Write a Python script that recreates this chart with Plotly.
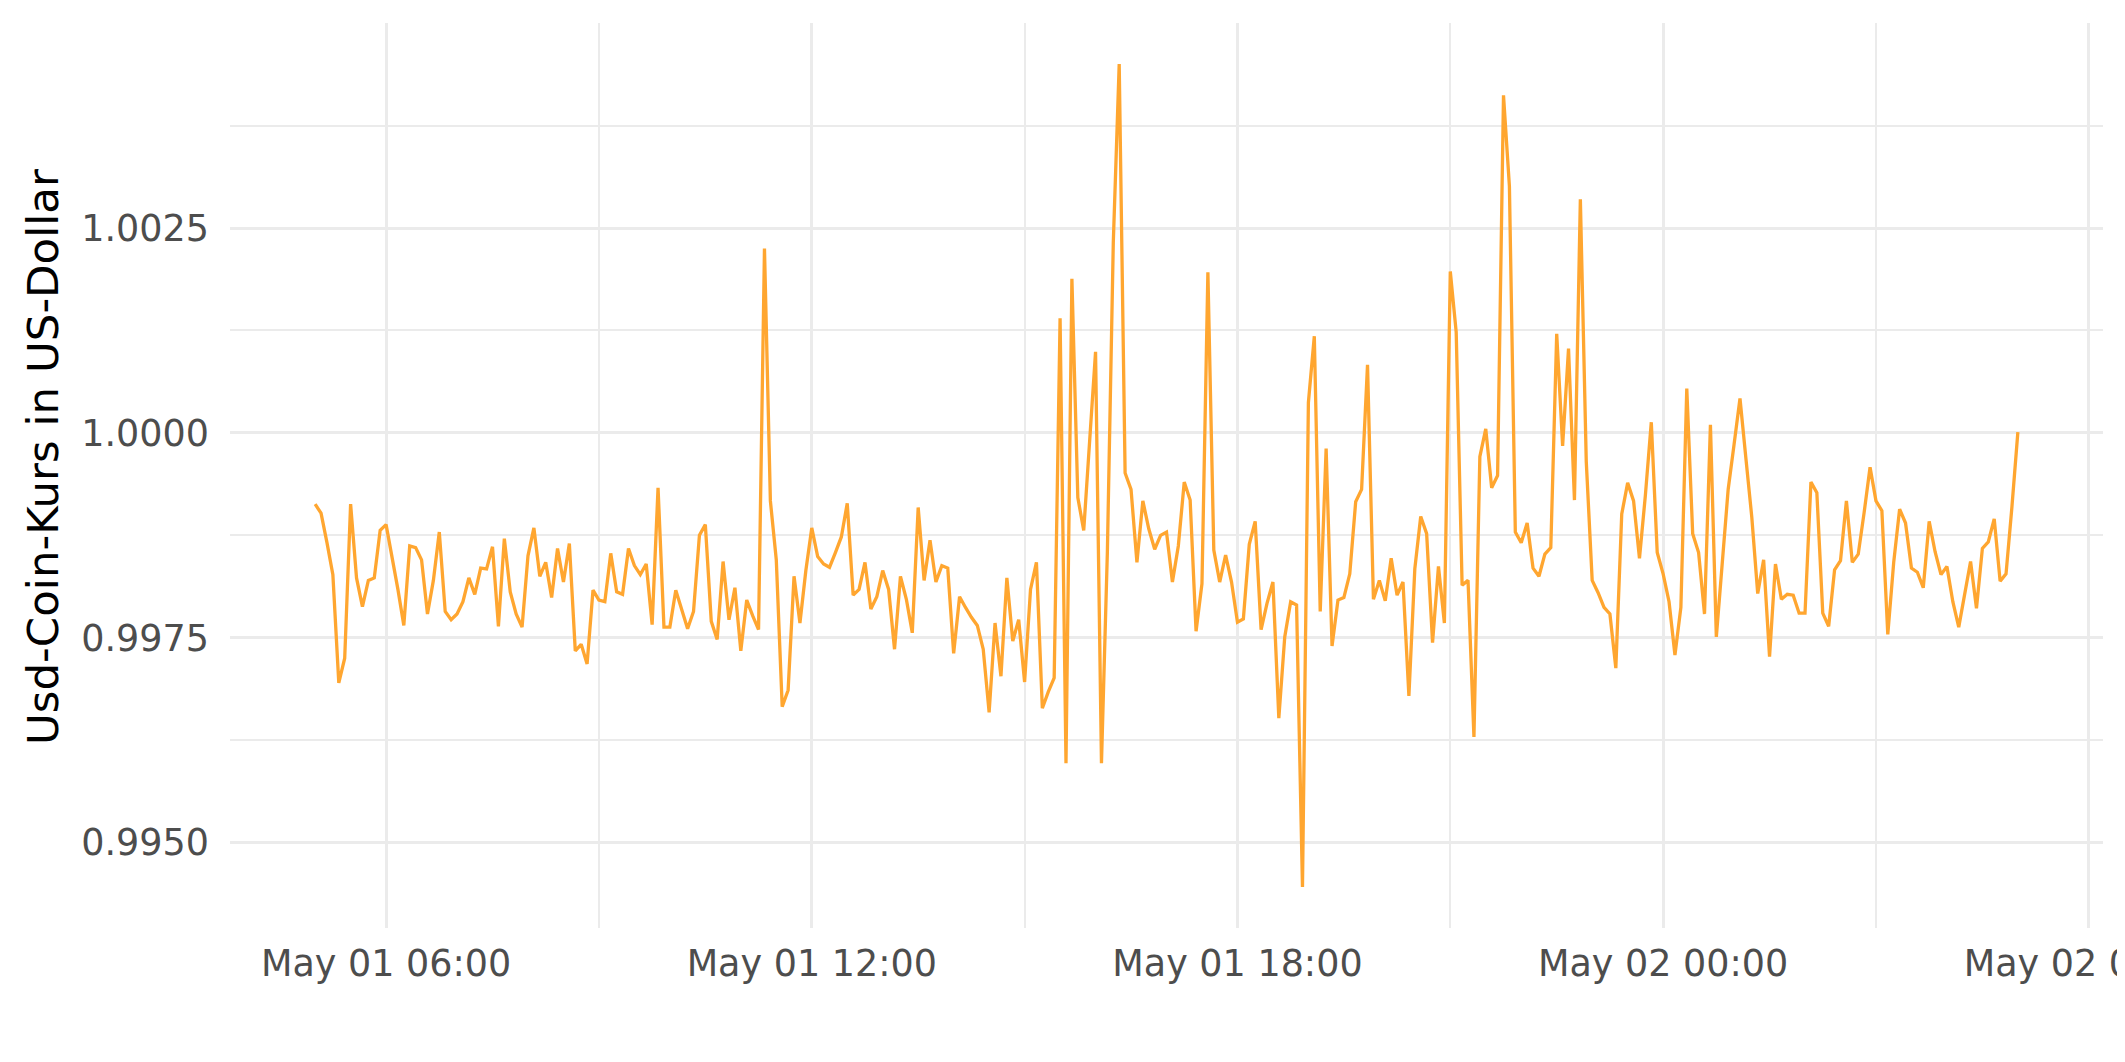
import pandas as pd
import plotly.graph_objects as go

# ---- data (5-minute samples, May 01 05:00 -> May 02 05:00) ----
start_time = "2024-05-01 05:00"
sample_freq = "5min"

usdc_price = [
    0.99913, 0.99902, 0.99866, 0.99827, 0.99695, 0.99725, 0.99913, 0.99823, 0.99788, 0.99820,
    0.99823, 0.99881, 0.99888, 0.99850, 0.99809, 0.99765, 0.99862, 0.99860, 0.99845, 0.99779,
    0.99820, 0.99879, 0.99782, 0.99772, 0.99779, 0.99794, 0.99823, 0.99803, 0.99835, 0.99834,
    0.99861, 0.99764, 0.99871, 0.99806, 0.99779, 0.99763, 0.99850, 0.99884, 0.99825, 0.99842,
    0.99799, 0.99859, 0.99818, 0.99865, 0.99734, 0.99742, 0.99718, 0.99808, 0.99796, 0.99794,
    0.99853, 0.99806, 0.99803, 0.99859, 0.99838, 0.99827, 0.99840, 0.99766, 0.99933, 0.99763,
    0.99763, 0.99808, 0.99784, 0.99761, 0.99782, 0.99875, 0.99888, 0.99770, 0.99748, 0.99843,
    0.99772, 0.99811, 0.99734, 0.99796, 0.99777, 0.99760, 1.00225, 0.99917, 0.99845, 0.99666,
    0.99686, 0.99825, 0.99768, 0.99832, 0.99884, 0.99849, 0.99840, 0.99836, 0.99854, 0.99873,
    0.99914, 0.99802, 0.99809, 0.99842, 0.99785, 0.99800, 0.99832, 0.99809, 0.99736, 0.99825,
    0.99797, 0.99756, 0.99909, 0.99820, 0.99869, 0.99818, 0.99838, 0.99835, 0.99731, 0.99800,
    0.99787, 0.99775, 0.99765, 0.99736, 0.99659, 0.99768, 0.99703, 0.99823, 0.99746, 0.99772,
    0.99696, 0.99809, 0.99842, 0.99664, 0.99684, 0.99701, 1.00140, 0.99597, 1.00188, 0.99921,
    0.99881, 0.99989, 1.00099, 0.99597, 0.99855, 1.00232, 1.00450, 0.99951, 0.99931, 0.99842,
    0.99917, 0.99883, 0.99858, 0.99875, 0.99879, 0.99818, 0.99862, 0.99940, 0.99918, 0.99758,
    0.99816, 1.00196, 0.99857, 0.99818, 0.99851, 0.99818, 0.99769, 0.99773, 0.99864, 0.99892,
    0.99760, 0.99792, 0.99818, 0.99652, 0.99751, 0.99794, 0.99790, 0.99446, 1.00037, 1.00118,
    0.99782, 0.99981, 0.99740, 0.99796, 0.99799, 0.99828, 0.99916, 0.99931, 1.00083, 0.99797,
    0.99820, 0.99795, 0.99847, 0.99802, 0.99818, 0.99679, 0.99834, 0.99898, 0.99877, 0.99744,
    0.99837, 0.99768, 1.00197, 1.00123, 0.99814, 0.99820, 0.99629, 0.99971, 1.00005, 0.99933,
    0.99948, 1.00412, 1.00301, 0.99879, 0.99866, 0.99890, 0.99835, 0.99825, 0.99852, 0.99860,
    1.00121, 0.99984, 1.00103, 0.99918, 1.00285, 0.99965, 0.99820, 0.99805, 0.99787, 0.99779,
    0.99713, 0.99901, 0.99939, 0.99917, 0.99847, 0.99924, 1.00013, 0.99854, 0.99828, 0.99794,
    0.99729, 0.99787, 1.00054, 0.99877, 0.99854, 0.99779, 1.00010, 0.99751, 0.99842, 0.99931,
    0.99986, 1.00042, 0.99969, 0.99897, 0.99804, 0.99845, 0.99727, 0.99840, 0.99797, 0.99803,
    0.99802, 0.99780, 0.99780, 0.99940, 0.99927, 0.99780, 0.99764, 0.99833, 0.99844, 0.99917,
    0.99842, 0.99852, 0.99903, 0.99958, 0.99917, 0.99905, 0.99754, 0.99842, 0.99907, 0.99890,
    0.99835, 0.99830, 0.99811, 0.99892, 0.99855, 0.99827, 0.99837, 0.99794, 0.99763, 0.99804,
    0.99843, 0.99786, 0.99859, 0.99867, 0.99895, 0.99819, 0.99828, 0.99910, 1.00001,
]

y_tick_values = [0.9950, 0.9975, 1.0000, 1.0025]
x_major_ticks = ["2024-05-01 06:00", "2024-05-01 12:00", "2024-05-01 18:00",
                 "2024-05-02 00:00", "2024-05-02 06:00"]
x_minor_ticks = ["2024-05-01 09:00", "2024-05-01 15:00", "2024-05-01 21:00",
                 "2024-05-02 03:00"]
y_minor_ticks = [0.99625, 0.99875, 1.00125, 1.00375]
y_title = "Usd-Coin-Kurs in US-Dollar"

times = pd.date_range(start_time, periods=len(usdc_price), freq=sample_freq)

# ggplot-like 5% expansion
t0, t1 = times[0], times[-1]
pad_t = (t1 - t0) * 0.05
vmin, vmax = min(usdc_price), max(usdc_price)
pad_v = (vmax - vmin) * 0.05

FONT = "DejaVu Sans"
GRID = "#EBEBEB"

# page body has an 8px default margin -> figure is 8px smaller on each side
W, H = 2117, 1054
ML, MR, MT, MB = 222, 22, 15, 134
plot_w = W - ML - MR
plot_h = H - MT - MB

fig = go.Figure()
fig.add_trace(go.Scatter(
    x=times, y=usdc_price, mode="lines",
    line=dict(color="rgb(255,166,48)", width=3.3),
    hoverinfo="x+y", showlegend=False,
))

fig.update_layout(
    width=W, height=H,
    margin=dict(l=ML, r=MR, t=MT, b=MB, autoexpand=False),
    paper_bgcolor="white", plot_bgcolor="white",
    font=dict(family=FONT, color="#4D4D4D", size=36.5),
    xaxis=dict(
        type="date",
        range=[t0 - pad_t, t1 + pad_t],
        tickmode="array", tickvals=x_major_ticks,
        tickformat="%b %d %H:%M",
        showgrid=True, gridcolor=GRID, gridwidth=3.3,
        zeroline=False, showline=False, ticks="",
        automargin=False,
        ticklabelstandoff=10, ticklabeloverflow="allow",
        tickfont=dict(family=FONT, size=36.5, color="#4D4D4D"),
        minor=dict(tickmode="array", tickvals=x_minor_ticks,
                   showgrid=True, gridcolor=GRID, gridwidth=1.7, ticks=""),
    ),
    yaxis=dict(
        range=[vmin - pad_v, vmax + pad_v],
        tickmode="array", tickvals=y_tick_values, tickformat=".4f",
        showgrid=True, gridcolor=GRID, gridwidth=3.3,
        zeroline=False, showline=False, ticks="",
        automargin=False,
        ticklabelstandoff=20,
        tickfont=dict(family=FONT, size=36.5, color="#4D4D4D"),
        minor=dict(tickmode="array", tickvals=y_minor_ticks,
                   showgrid=True, gridcolor=GRID, gridwidth=1.7, ticks=""),
    ),
    annotations=[dict(
        text=y_title, textangle=-90,
        xref="paper", yref="paper",
        x=(43 - 8 - ML) / plot_w, y=(H - MB - (457 - 8)) / plot_h,
        xanchor="center", yanchor="middle", showarrow=False,
        font=dict(family=FONT, size=43.5, color="black"),
    )],
)

fig.write_html("out.html")
